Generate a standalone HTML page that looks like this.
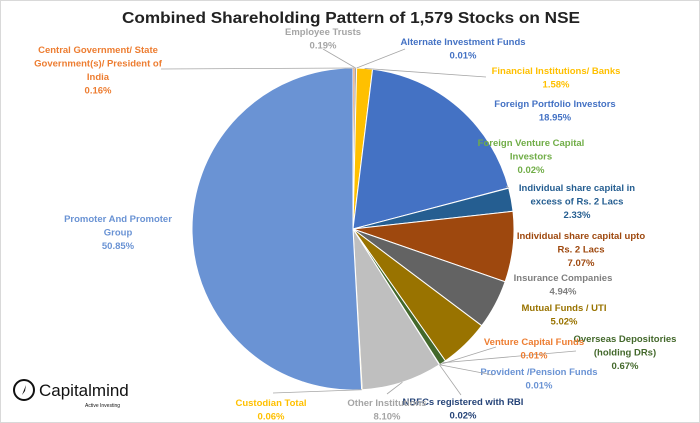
<!DOCTYPE html>
<html><head><meta charset="utf-8"><style>
html,body{margin:0;padding:0;background:#fff}
#wrap{position:relative;width:698px;height:421px;border:1px solid #d9d9d9;overflow:hidden;font-family:"Liberation Sans",sans-serif}
svg text{font-family:"Liberation Sans",sans-serif}
</style></head><body>
<div id="wrap">
<svg id="chart" width="698" height="421">
<text x="121" y="22" font-size="16" font-weight="bold" fill="#222" textLength="458" lengthAdjust="spacingAndGlyphs">Combined Shareholding  Pattern of 1,579 Stocks on NSE</text>
<g id="slices"></g>
<g id="labels"></g>
<g>
<circle cx="23" cy="389" r="10" fill="none" stroke="#111" stroke-width="2"/>
<path d="M21 394 L25 384 L24 390 Z" fill="#111"/>
<text x="38" y="395" font-size="17" fill="#111">Capitalmind</text>
<text x="84" y="406" font-size="5" fill="#111">Active Investing</text>
</g>
</svg>
</div>
<script>
const categories=["Central Government/ State Government(s)/ President of India","Employee Trusts","Alternate Investment Funds","Financial  Institutions/ Banks","Foreign Portfolio Investors","Foreign Venture Capital Investors","Individual  share capital in excess of Rs. 2 Lacs","Individual  share capital upto Rs. 2 Lacs","Insurance Companies","Mutual Funds / UTI","Overseas Depositories (holding DRs)","Venture Capital Funds","Provident /Pension Funds","NBFCs registered with RBI","Other Institutions","Custodian Total","Promoter And Promoter Group"];
const values=[0.16,0.19,0.01,1.58,18.95,0.02,2.33,7.07,4.94,5.02,0.67,0.01,0.01,0.02,8.10,0.06,50.85];
const valueLabels=["0.16%","0.19%","0.01%","1.58%","18.95%","0.02%","2.33%","7.07%","4.94%","5.02%","0.67%","0.01%","0.01%","0.02%","8.10%","0.06%","50.85%"];
const colors=["#ed7d31","#a5a5a5","#4472c4","#ffc000","#4472c4","#70ad47","#255e91","#9e480e","#636363","#997300","#43682b","#ed7d31","#4472c4","#264478","#bfbfbf","#ffc000","#6a93d4"];
const textColors=["#ed7d31","#a5a5a5","#4472c4","#ffc000","#4472c4","#70ad47","#255e91","#9e480e","#7f7f7f","#997300","#43682b","#ed7d31","#6a93d4","#264478","#a5a5a5","#ffc000","#6a93d4"];
const layout=[[97,52,"middle"],[322,34,"middle"],[462,44,"middle"],[555,73,"middle"],[554,106,"middle"],[530,145,"middle"],[576,190,"middle"],[580,238,"middle"],[562,280,"middle"],[563,310,"middle"],[624,341,"middle"],[533,344,"middle"],[538,374,"middle"],[462,404,"middle"],[386,405,"middle"],[270,405,"middle"],[117,221,"middle"]];
const wrapLines=[["Central Government/ State","Government(s)/ President of","India"],["Employee Trusts"],["Alternate Investment Funds"],["Financial  Institutions/ Banks"],["Foreign Portfolio Investors"],["Foreign Venture Capital","Investors"],["Individual  share capital in","excess of Rs. 2 Lacs"],["Individual  share capital upto","Rs. 2 Lacs"],["Insurance Companies"],["Mutual Funds / UTI"],["Overseas Depositories","(holding DRs)"],["Venture Capital Funds"],["Provident /Pension Funds"],["NBFCs registered with RBI"],["Other Institutions"],["Custodian Total"],["Promoter And Promoter","Group"]];
const leaderEnds=[[160,68],[322,48],[404,48],[485,76],null,[505,185],null,null,null,null,[575,350],[495,346],[492,374],[460,394],[386,393],[272,392],null];
const cx=352,cy=228,r=161;
const NS="http://www.w3.org/2000/svg";
const total=values.reduce((a,b)=>a+b,0);
function angleOf(v){return v/total*Math.PI*2;}
function pt(a,rr){return [cx+rr*Math.sin(a),cy-rr*Math.cos(a)];}
const sg=document.getElementById('slices'),lg=document.getElementById('labels');
let a0=0;
values.forEach((v,i)=>{
  const a1=a0+angleOf(v);
  const p0=pt(a0,r),p1=pt(a1,r);
  const large=(a1-a0)>Math.PI?1:0;
  const p=document.createElementNS(NS,'path');
  p.setAttribute('d',`M${cx},${cy} L${p0[0]},${p0[1]} A${r},${r} 0 ${large} 1 ${p1[0]},${p1[1]} Z`);
  p.setAttribute('fill',colors[i]);
  p.setAttribute('stroke','#fff');
  p.setAttribute('stroke-width',v>0.5?'1':'0.3');
  
  
  sg.appendChild(p);
  const [lx,ly,anc]=layout[i];
  const lines=wrapLines[i];
  const t=document.createElementNS(NS,'text');
  t.setAttribute('x',lx);t.setAttribute('y',ly);
  t.setAttribute('text-anchor',anc);t.setAttribute('font-size','9.5');t.setAttribute('font-weight','bold');t.setAttribute('fill',textColors[i]);
  
  
  lines.concat([valueLabels[i]]).forEach((s,k)=>{
    const ts=document.createElementNS(NS,'tspan');
    ts.setAttribute('x',lx);ts.setAttribute('dy',k?'13.5':'0');ts.textContent=s;t.appendChild(ts);
  });
  lg.appendChild(t);
  if(leaderEnds[i]){
    const mid=(a0+a1)/2,e=pt(mid,r);
    const l=document.createElementNS(NS,'polyline');
    l.setAttribute('points',`${e[0]},${e[1]} ${leaderEnds[i][0]},${leaderEnds[i][1]}`);
    l.setAttribute('fill','none');l.setAttribute('stroke','#a6a6a6');l.setAttribute('stroke-width','0.8');
    
    
    lg.appendChild(l);
  }
  a0=a1;
});
</script>
</body></html>
